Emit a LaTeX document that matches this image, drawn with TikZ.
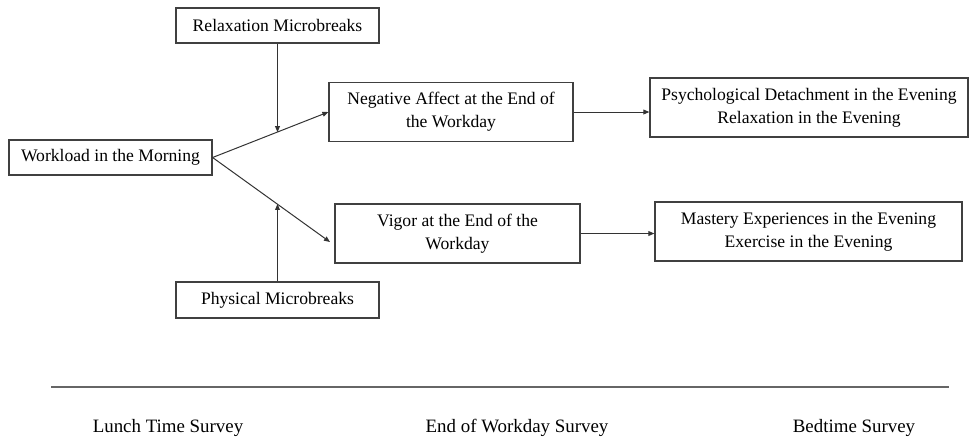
\documentclass[tikz,border=0pt]{standalone}
\usepackage{fontspec}
\setmainfont{Liberation Serif}
\usepackage{tikz}
\usetikzlibrary{arrows.meta,calc}

\begin{document}
\begin{tikzpicture}[
  x=0.5pt, y=-0.5pt,
  font=\fontsize{8.8}{11.5}\selectfont,
  box/.style={draw=black!75, line width=0.6pt, align=center, inner sep=1pt,
              minimum height=17.5pt},
  tallbox/.style={box, minimum height=29.5pt},
  arr/.style ={-{Triangle[length=3pt,width=2.4pt]}, draw=black!80, line width=0.5pt},
  survey/.style={font=\fontsize{9.45}{10}\selectfont},
]
\useasboundingbox (0,0) rectangle (969,447);

% predictor and moderators
\node[box, minimum width=101.5pt] (work)  at (110.5,157.5) {Workload in the Morning};
\node[box, minimum width=101.5pt] (relax) at (277.5,25.5)  {Relaxation Microbreaks};
\node[box, minimum width=101.5pt, minimum height=18pt] (phys) at (277.5,300) {Physical Microbreaks};

% end of workday
\node[tallbox, minimum width=122pt] (neg) at (451,112)
  {Negative Affect at the End of\\the Workday};
\node[tallbox, minimum width=122.5pt] (vig) at (457.5,233.5)
  {Vigor at the End of the\\Workday};

% evening
\node[tallbox, minimum width=159pt] (det) at (809,107.5)
  {Psychological Detachment in the Evening\\Relaxation in the Evening};
\node[tallbox, minimum width=153.5pt] (mas) at (808.5,231.5)
  {Mastery Experiences in the Evening\\Exercise in the Evening};

\coordinate (vigin) at (330,242);
\coordinate (upmid) at ($(work.east)!0.556!(neg.west)$);
\coordinate (lowmid) at ($(work.east)!0.55!(vigin)$);

\draw[arr] (work.east) -- (neg.west);
\draw[arr] (work.east) -- (vigin);
\draw[arr] (relax) -- (relax |- upmid);
\draw[arr] (phys) -- (phys |- lowmid);
\draw[arr] (neg.east) -- (det.west |- neg.east);
\draw[arr] (vig.east) -- (mas.west |- vig.east);

% timeline
\coordinate (tl) at (51,387);
\coordinate (tr) at (949,387);
\draw[black!60, line width=0.8pt] (tl) -- (tr);
\node[survey] (lunch) at (168,428) {Lunch Time Survey};
\node[survey] (eow)   at (517,428) {End of Workday Survey};
\node[survey] (bed)   at (854,428) {Bedtime Survey};

\end{tikzpicture}
\end{document}
